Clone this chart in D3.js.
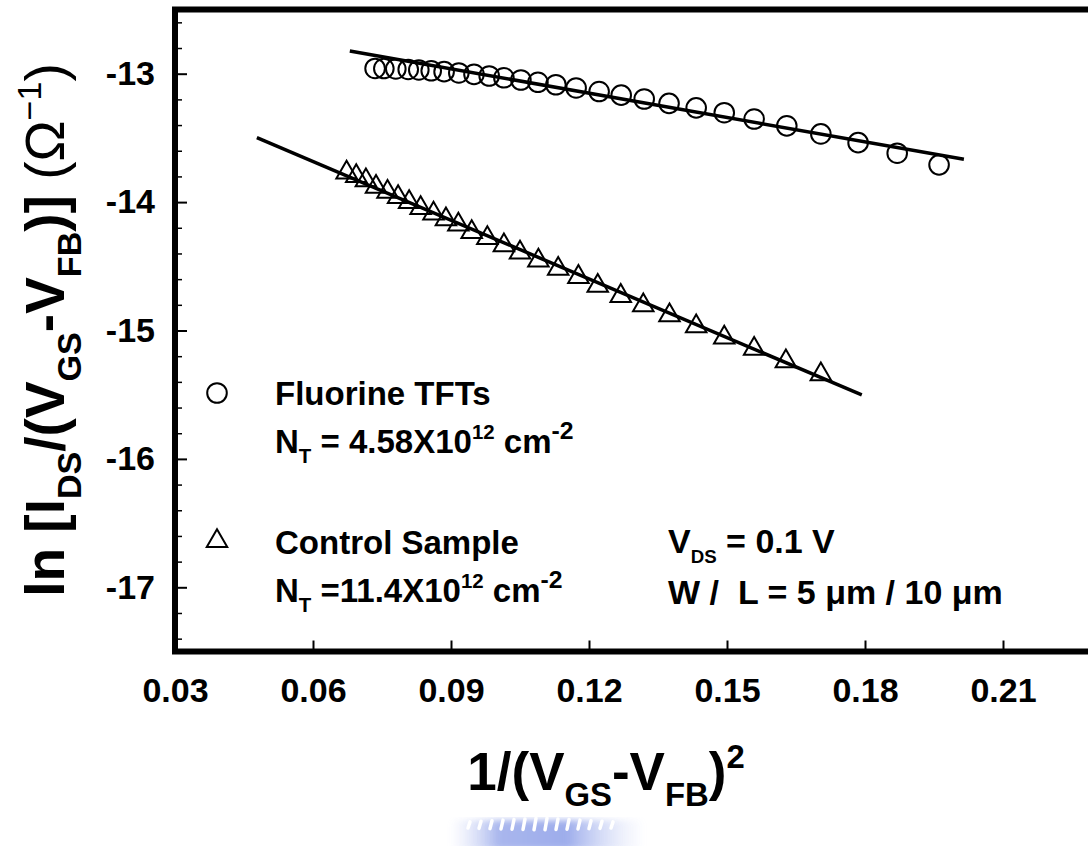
<!DOCTYPE html>
<html>
<head>
<meta charset="utf-8">
<script src="https://cdn.jsdelivr.net/npm/d3@7"></script>
<style>
  html, body { margin: 0; padding: 0; background: #fff; }
  svg { display: block; }
  text { font-family: "Liberation Sans", Arial, Helvetica, sans-serif; font-weight: bold; fill: #000; white-space: pre; }
</style>
</head>
<body>
<svg id="chart" width="1088" height="846"></svg>
<script>
// x = 1/(VGS-VFB)^2 (V^-2), y = ln[IDS/(VGS-VFB)] (ohm^-1)
const fluorineX = [0.0735, 0.0754, 0.0780, 0.0807, 0.0830, 0.0857, 0.0885, 0.0917, 0.0950, 0.0983,
                   0.1015, 0.1052, 0.1089, 0.1128, 0.1172, 0.1222, 0.1270, 0.1320, 0.1374, 0.1433,
                   0.1494, 0.1559, 0.1630, 0.1704, 0.1785, 0.1870, 0.1961];
const fluorineY = [-12.959, -12.960, -12.963, -12.967, -12.971, -12.977, -12.984, -12.994, -13.005, -13.018,
                   -13.032, -13.049, -13.067, -13.086, -13.111, -13.139, -13.167, -13.197, -13.231, -13.266,
                   -13.304, -13.353, -13.406, -13.469, -13.537, -13.619, -13.710];
const controlX = [0.0673, 0.0694, 0.0715, 0.0737, 0.0762, 0.0785, 0.0809, 0.0834, 0.0862, 0.0889,
                  0.0916, 0.0945, 0.0979, 0.1015, 0.1050, 0.1090, 0.1133, 0.1177, 0.1219, 0.1269,
                  0.1318, 0.1375, 0.1433, 0.1494, 0.1559, 0.1628, 0.1704];
const controlY = [-13.771, -13.797, -13.830, -13.882, -13.921, -13.960, -13.999, -14.046, -14.090, -14.134,
                  -14.176, -14.233, -14.280, -14.336, -14.394, -14.456, -14.519, -14.583, -14.653, -14.731,
                  -14.804, -14.882, -14.967, -15.056, -15.142, -15.240, -15.341];
// linear fits (end points)
const fluorineFitX = [0.0680, 0.2015];
const fluorineFitY = [-12.823, -13.667];
const controlFitX = [0.0478, 0.1793];
const controlFitY = [-13.498, -15.502];

const xTicks = [0.03, 0.06, 0.09, 0.12, 0.15, 0.18, 0.21];
const xTickLabels = ["0.03", "0.06", "0.09", "0.12", "0.15", "0.18", "0.21"];
const yTicks = [-13, -14, -15, -16, -17];
const yTickLabels = ["-13", "-14", "-15", "-16", "-17"];
const yMinorTicks = d3.range(-17.4, -12.5, 0.2).map(v => +v.toFixed(1)).filter(v => !Number.isInteger(v));

const svg = d3.select("#chart");
const x = d3.scaleLinear().domain([0.03, 0.24]).range([175, 1141]);
const y = d3.scaleLinear().domain([-17.5, -12.5]).range([651.5, 9.5]);

// frame (right edge runs past the canvas)
svg.append("rect")
  .attr("x", x(0.03)).attr("y", y(-12.5))
  .attr("width", x(0.24) - x(0.03)).attr("height", y(-17.5) - y(-12.5))
  .attr("fill", "none").attr("stroke", "#000").attr("stroke-width", 6);

// bottom axis, ticks pointing inward
const xAxis = svg.append("g").attr("transform", `translate(0,${y(-17.5)})`)
  .call(d3.axisBottom(x).tickValues(xTicks).tickFormat((d, i) => xTickLabels[i])
        .tickSizeInner(-11).tickSizeOuter(0).tickPadding(26));
xAxis.select(".domain").remove();
xAxis.selectAll(".tick line").attr("stroke-width", 2);
xAxis.selectAll(".tick text").attr("font-size", 34).attr("font-family", null);

// left axis, major and minor ticks pointing inward
const yAxis = svg.append("g").attr("transform", `translate(${x(0.03)},0)`)
  .call(d3.axisLeft(y).tickValues(yTicks).tickFormat((d, i) => yTickLabels[i])
        .tickSizeInner(-12).tickSizeOuter(0).tickPadding(20));
yAxis.select(".domain").remove();
yAxis.selectAll(".tick line").attr("stroke-width", 2);
yAxis.selectAll(".tick text").attr("font-size", 34).attr("font-family", null);

const yMinor = svg.append("g").attr("transform", `translate(${x(0.03)},0)`)
  .call(d3.axisLeft(y).tickValues(yMinorTicks).tickFormat("").tickSizeInner(-7).tickSizeOuter(0));
yMinor.select(".domain").remove();
yMinor.selectAll(".tick line").attr("stroke-width", 1.5);

// fit lines
const line = d3.line().x(d => x(d[0])).y(d => y(d[1]));
svg.append("path").datum(d3.zip(fluorineFitX, fluorineFitY)).attr("d", line)
  .attr("fill", "none").attr("stroke", "#000").attr("stroke-width", 3.5);
svg.append("path").datum(d3.zip(controlFitX, controlFitY)).attr("d", line)
  .attr("fill", "none").attr("stroke", "#000").attr("stroke-width", 3.5);

// markers
const triPath = (s) => {
  const h = s * Math.sqrt(3) / 2;
  return `M0,${-2 * h / 3}L${s / 2},${h / 3}L${-s / 2},${h / 3}Z`;
};
svg.append("g").selectAll("circle").data(d3.zip(fluorineX, fluorineY)).join("circle")
  .attr("cx", d => x(d[0])).attr("cy", d => y(d[1])).attr("r", 9.8)
  .attr("fill", "none").attr("stroke", "#000").attr("stroke-width", 2);
svg.append("g").selectAll("path").data(d3.zip(controlX, controlY)).join("path")
  .attr("transform", d => `translate(${x(d[0])},${y(d[1])})`)
  .attr("d", triPath(20.5))
  .attr("fill", "none").attr("stroke", "#000").attr("stroke-width", 2);

// legend
svg.append("circle").attr("cx", 217).attr("cy", 393).attr("r", 9.8)
  .attr("fill", "none").attr("stroke", "#000").attr("stroke-width", 2);
svg.append("path").attr("transform", "translate(217,541)").attr("d", triPath(20.5))
  .attr("fill", "none").attr("stroke", "#000").attr("stroke-width", 2);

// text with sub/superscript runs
function richText(parent, xPos, yPos, size, parts) {
  const t = parent.append("text").attr("x", xPos).attr("y", yPos).attr("font-size", size);
  let shift = 0;
  parts.forEach(p => {
    const target = p.sub ? size * 0.3 : p.sup ? -size * 0.42 : 0;
    const scale = p.scale || ((p.sub || p.sup) ? 0.62 : 1);
    const ts = t.append("tspan").text(p.t)
      .attr("font-size", size * scale)
      .attr("dy", target - shift);
    if (p.normal) ts.style("font-weight", "normal");
    shift = target;
  });
  return t;
}

richText(svg, 275, 405, 33, [{ t: "Fluorine TFTs" }]);
richText(svg, 275, 453, 33, [{ t: "N" }, { t: "T", sub: true }, { t: " = 4.58X10" }, { t: "12", sup: true }, { t: " cm" }, { t: "-2", sup: true, scale: 0.75 }]);
richText(svg, 275, 554, 33, [{ t: "Control Sample" }]);
richText(svg, 275, 602, 33, [{ t: "N" }, { t: "T", sub: true }, { t: " =11.4X10" }, { t: "12", sup: true }, { t: " cm" }, { t: "-2", sup: true, scale: 0.75 }]);
richText(svg, 668, 553, 34, [{ t: "V" }, { t: "DS", sub: true, scale: 0.55 }, { t: " = 0.1 V" }]);
richText(svg, 668, 604, 34, [{ t: "W /  L = 5 \u03bcm / 10 \u03bcm" }]);

// axis titles
richText(svg, 0, 0, 53, [{ t: "1/(V" }, { t: "GS", sub: true }, { t: "-V" }, { t: "FB", sub: true }, { t: ")" }, { t: "2", sup: true }])
  .attr("text-anchor", "middle").attr("transform", "translate(606,790)").attr("x", null).attr("y", null);

richText(svg, 0, 0, 55, [{ t: "ln [I" }, { t: "DS", sub: true }, { t: "/(V" }, { t: "GS", sub: true }, { t: "-V" }, { t: "FB", sub: true }, { t: ")] " }, { t: "(\u03a9", normal: true }, { t: "\u22121", sup: true, normal: true }, { t: ")", normal: true }])
  .attr("text-anchor", "middle").attr("transform", "translate(64,330) rotate(-90)").attr("x", null).attr("y", null);

// faint blue seal at the bottom edge
const defs = svg.append("defs");
defs.append("filter").attr("id", "soft").append("feGaussianBlur").attr("stdDeviation", 3);
const grad = defs.append("linearGradient").attr("id", "sealGrad");
grad.append("stop").attr("offset", "0%").attr("stop-color", "#c9d2f6").attr("stop-opacity", 0);
grad.append("stop").attr("offset", "25%").attr("stop-color", "#9aaaea");
grad.append("stop").attr("offset", "60%").attr("stop-color", "#8d9fe8");
grad.append("stop").attr("offset", "100%").attr("stop-color", "#c9d2f6").attr("stop-opacity", 0);
const seal = svg.append("g").attr("opacity", 0.85);
seal.append("rect").attr("x", 450).attr("y", 820).attr("width", 195).attr("height", 30)
  .attr("rx", 6).attr("fill", "url(#sealGrad)").attr("filter", "url(#soft)");
seal.append("g").attr("stroke", "#fff").attr("stroke-width", 3.5).attr("stroke-linecap", "round")
  .selectAll("line").data(d3.range(14)).join("line")
  .attr("x1", i => 470 + i * 11).attr("x2", i => 468 + i * 11)
  .attr("y1", i => 818 + Math.abs(i - 6.5) * 0.6).attr("y2", i => 830 - Math.abs(i - 6.5) * 0.3);
</script>
</body>
</html>
